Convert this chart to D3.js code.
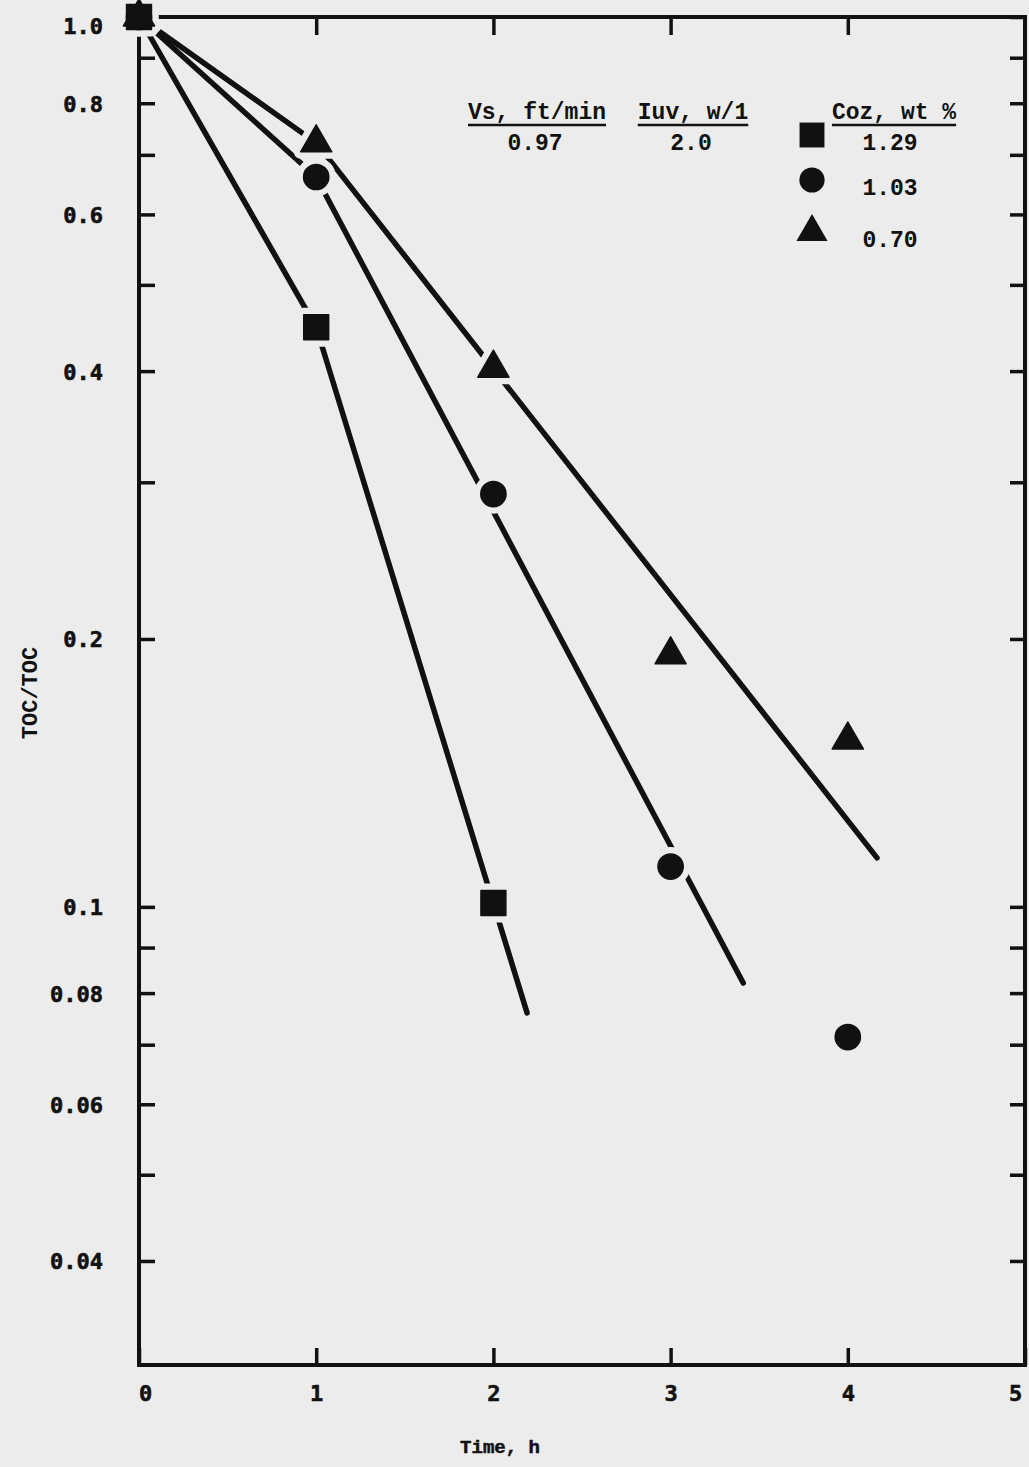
<!DOCTYPE html>
<html>
<head>
<meta charset="utf-8">
<script src="https://cdn.jsdelivr.net/npm/d3@7"></script>
<style>
  body { margin: 0; background: #ececec; }
  svg { display: block; }
  .tick text { font-family: "DejaVu Sans Mono", monospace; font-weight: bold; fill: #111; stroke: #111; stroke-width: 0.6; }
</style>
</head>
<body>
<svg id="chart"></svg>
<script>
// data
const times = [0, 1, 2, 3, 4];
const coz129 = [1.0, 0.448, 0.101];
const coz103 = [1.0, 0.661, 0.291, 0.111, 0.0714];
const coz070 = [1.0, 0.722, 0.403, 0.192, 0.154];
const seriesLabels = ["1.29", "1.03", "0.70"];
const seriesShapes = ["square", "circle", "triangle"];
// hand-drawn fit lines: knot times and values (kinked at t = 1)
const fitTimes129 = [0, 1, 2.19];
const fitValues129 = [1.0, 0.448, 0.076];
const fitTimes103 = [0, 1, 3.41];
const fitValues103 = [1.0, 0.661, 0.0821];
const fitTimes070 = [0, 1, 4.165];
const fitValues070 = [1.0, 0.722, 0.1135];
const yTickValues = [1.0, 0.9, 0.8, 0.7, 0.6, 0.5, 0.4, 0.3, 0.2, 0.1, 0.09, 0.08, 0.07, 0.06, 0.05, 0.04];
const yTickLabels = [1.0, 0.8, 0.6, 0.4, 0.2, 0.1, 0.08, 0.06, 0.04];
const xTickValues = [0, 1, 2, 3, 4, 5];
const legendHeads = ["Vs, ft/min", "Iuv, w/1"];
const legendValues = ["0.97", "2.0"];

const W = 1029, H = 1467;
const bg = "#ececec", ink = "#111";

const svg = d3.select("#chart").attr("width", W).attr("height", H);
svg.append("rect").attr("width", W).attr("height", H).attr("fill", bg);

const x = d3.scaleLinear().domain([0, 5]).range([139, 1025]);
const y = d3.scaleLog().domain([0.03056, 1.0]).range([1365, 17]);

const pLeft = 139, pRight = 1025, pTop = 17, pBottom = 1365;

// axes
const fmt = d => {
    if (!yTickLabels.includes(d)) return "";
    return d >= 0.1 ? d3.format(".1f")(d) : d3.format(".2f")(d);
};

const yLeft = svg.append("g")
    .attr("transform", `translate(${pLeft},0)`)
    .call(d3.axisLeft(y).tickValues(yTickValues).tickFormat(fmt)
        .tickSizeInner(-16).tickSizeOuter(0).tickPadding(36));

const yRight = svg.append("g")
    .attr("transform", `translate(${pRight},0)`)
    .call(d3.axisRight(y).tickValues(yTickValues).tickFormat("")
        .tickSizeInner(-15).tickSizeOuter(0));

const xBottom = svg.append("g")
    .attr("transform", `translate(0,${pBottom})`)
    .call(d3.axisBottom(x).tickValues(xTickValues).tickFormat(d3.format("d"))
        .tickSizeInner(-17).tickSizeOuter(0).tickPadding(20));

const xTop = svg.append("g")
    .attr("transform", `translate(0,${pTop})`)
    .call(d3.axisTop(x).tickValues(xTickValues.slice(1, 5)).tickFormat("")
        .tickSizeInner(-18).tickSizeOuter(0));

[yLeft, yRight, xBottom, xTop].forEach(g => {
    g.select(".domain").remove();
    g.selectAll(".tick line").attr("stroke", ink).attr("stroke-width", 3.5);
});
yLeft.selectAll(".tick text").attr("font-size", 22)
    .attr("dy", d => d === 1.0 ? "0.75em" : "0.36em");
xBottom.selectAll(".tick text").attr("font-size", 22)
    .attr("dx", d => d === 0 ? 6 : (d === 5 ? -10 : 0));

// frame
svg.append("rect")
    .attr("x", pLeft).attr("y", pTop)
    .attr("width", pRight - pLeft).attr("height", pBottom - pTop)
    .attr("fill", "none").attr("stroke", ink).attr("stroke-width", 4);

// fitted lines
const fitData = [
    fitTimes129.map((t, i) => [t, fitValues129[i]]),
    fitTimes103.map((t, i) => [t, fitValues103[i]]),
    fitTimes070.map((t, i) => [t, fitValues070[i]])
];
const lineGen = d3.line().x(d => x(d[0])).y(d => y(d[1]));
svg.append("g").selectAll("path")
    .data(fitData)
    .join("path")
    .attr("d", lineGen)
    .attr("fill", "none")
    .attr("stroke", ink).attr("stroke-width", 5.5)
    .attr("stroke-linecap", "round").attr("stroke-linejoin", "round");

// markers
const symbolOf = {
    square: d3.symbol().type(d3.symbolSquare).size(620),
    circle: d3.symbol().type(d3.symbolCircle).size(500),
    triangle: d3.symbol().type(d3.symbolTriangle).size(420)
};
const seriesValues = [coz129, coz103, coz070];
const points = [];
[2, 1, 0].forEach(i => {
    seriesValues[i].forEach((v, j) => points.push({ t: times[j], v: v, shape: seriesShapes[i] }));
});

const pts = svg.append("g");
// halo cuts gaps in the lines around each marker
pts.selectAll(".halo")
    .data(points)
    .join("path")
    .attr("class", "halo")
    .attr("transform", d => `translate(${x(d.t)},${y(d.v)})`)
    .attr("d", d => symbolOf[d.shape]())
    .attr("fill", bg).attr("stroke", bg).attr("stroke-width", 14)
    .attr("stroke-linejoin", "round");
pts.selectAll(".mark")
    .data(points)
    .join("path")
    .attr("class", "mark")
    .attr("transform", d => `translate(${x(d.t)},${y(d.v)})`)
    .attr("d", d => symbolOf[d.shape]())
    .attr("fill", ink).attr("stroke", ink).attr("stroke-width", 1.5)
    .attr("stroke-linejoin", "round");

// axis titles
svg.append("text")
    .attr("x", 500).attr("y", 1453)
    .attr("text-anchor", "middle")
    .attr("font-family", "Liberation Mono, monospace").attr("font-weight", "bold")
    .attr("font-size", 19).attr("fill", ink)
    .attr("stroke", ink).attr("stroke-width", 0.5)
    .text("Time, h");

svg.append("text")
    .attr("transform", "translate(37,693) rotate(-90)")
    .attr("text-anchor", "middle")
    .attr("font-family", "Liberation Mono, monospace").attr("font-weight", "bold")
    .attr("font-size", 22).attr("fill", ink)
    .text("TOC/TOC");

// legend
const legendFont = "Liberation Mono, monospace";
const headX = [537, 693];
legendHeads.forEach((h, i) => {
    const t = svg.append("text")
        .attr("x", headX[i]).attr("y", 119)
        .attr("text-anchor", "middle")
        .attr("font-family", legendFont).attr("font-weight", "bold")
        .attr("font-size", 23).attr("fill", ink)
        .text(h);
    const w = t.node().getComputedTextLength();
    svg.append("line")
        .attr("x1", headX[i] - w / 2).attr("x2", headX[i] + w / 2)
        .attr("y1", 125).attr("y2", 125)
        .attr("stroke", ink).attr("stroke-width", 2.5);
    svg.append("text")
        .attr("x", headX[i] - 2).attr("y", 150)
        .attr("text-anchor", "middle")
        .attr("font-family", legendFont).attr("font-weight", "bold")
        .attr("font-size", 23).attr("fill", ink)
        .text(legendValues[i]);
});

const cozHead = svg.append("text")
    .attr("x", 894).attr("y", 119)
    .attr("text-anchor", "middle")
    .attr("font-family", legendFont).attr("font-weight", "bold")
    .attr("font-size", 23).attr("fill", ink)
    .text("Coz, wt %");
const cw = cozHead.node().getComputedTextLength();
svg.append("line")
    .attr("x1", 894 - cw / 2).attr("x2", 894 + cw / 2)
    .attr("y1", 125).attr("y2", 125)
    .attr("stroke", ink).attr("stroke-width", 2.5);

const legendY = [135, 180, 232];
const lg = svg.append("g").selectAll("g")
    .data(seriesLabels)
    .join("g")
    .attr("transform", (d, i) => `translate(0,${legendY[i]})`);
lg.append("path")
    .attr("transform", "translate(812,0)")
    .attr("d", (d, i) => symbolOf[seriesShapes[i]]())
    .attr("fill", ink);
lg.append("text")
    .attr("x", 890).attr("y", (d, i) => i === 0 ? 15 : 15)
    .attr("text-anchor", "middle")
    .attr("font-family", legendFont).attr("font-weight", "bold")
    .attr("font-size", 23).attr("fill", ink)
    .text(d => d);
</script>
</body>
</html>
